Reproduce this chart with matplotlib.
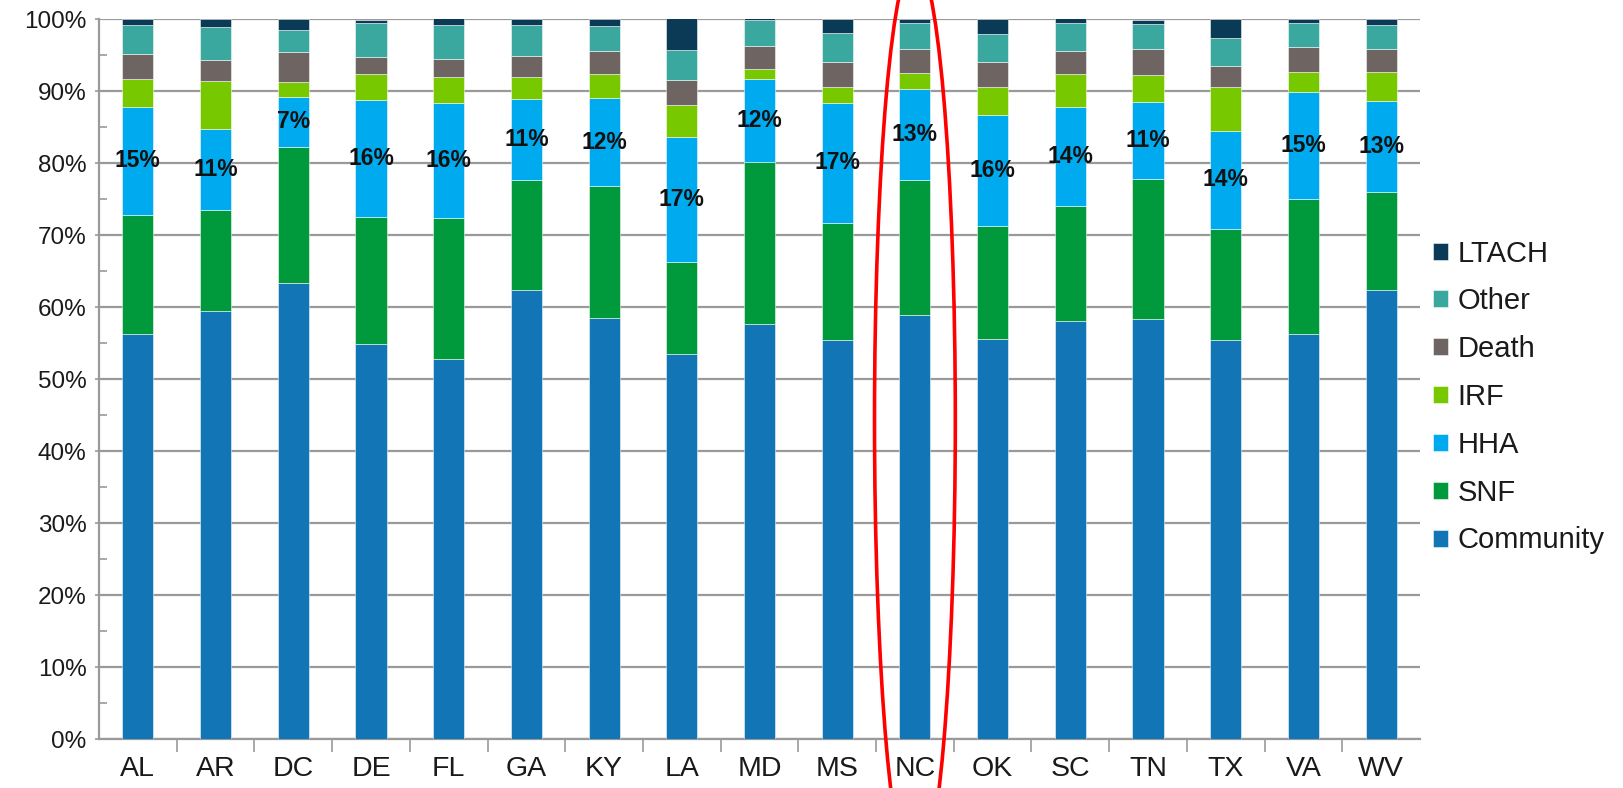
import matplotlib
matplotlib.use("Agg")
import matplotlib.pyplot as plt
from matplotlib.patches import Ellipse
from matplotlib.ticker import FixedLocator, FuncFormatter
import numpy as np

plt.rcParams['font.family'] = ['Liberation Sans', 'DejaVu Sans']

states = ['AL', 'AR', 'DC', 'DE', 'FL', 'GA', 'KY', 'LA', 'MD', 'MS',
          'NC', 'OK', 'SC', 'TN', 'TX', 'VA', 'WV']
community = [56.2, 59.4, 63.3, 54.8, 52.8, 62.3, 58.5, 53.5, 57.7, 55.4,
             58.9, 55.5, 58.1, 58.3, 55.4, 56.3, 62.3]
snf = [16.6, 14.1, 18.9, 17.7, 19.5, 15.4, 18.3, 12.7, 22.4, 16.3,
       18.7, 15.7, 15.9, 19.5, 15.5, 18.7, 13.7]
hha = [15.0, 11.2, 7.0, 16.2, 16.0, 11.2, 12.2, 17.4, 11.6, 16.7,
       12.7, 15.5, 13.8, 10.7, 13.5, 14.8, 12.6]
irf = [3.8, 6.7, 2.1, 3.7, 3.6, 3.0, 3.4, 4.5, 1.3, 2.2,
       2.2, 3.9, 4.5, 3.7, 6.2, 2.9, 4.0]
death = [3.5, 2.9, 4.1, 2.3, 2.5, 3.0, 3.2, 3.4, 3.3, 3.4,
         3.3, 3.4, 3.2, 3.6, 2.9, 3.4, 3.2]
other = [4.0, 4.6, 3.1, 4.7, 4.7, 4.3, 3.4, 4.2, 3.6, 4.1,
         3.6, 3.9, 3.9, 3.5, 3.9, 3.4, 3.3]
ltach = [0.9, 1.1, 1.5, 0.5, 1.0, 0.8, 1.0, 4.4, 0.2, 1.9,
         0.6, 2.1, 0.7, 0.6, 2.6, 0.5, 0.9]
hha_labels = ['15%', '11%', '7%', '16%', '16%', '11%', '12%', '17%', '12%', '17%',
              '13%', '16%', '14%', '11%', '14%', '15%', '13%']
highlight = 'NC'

series = [('Community', community, '#1275B6'),
          ('SNF', snf, '#009A3D'),
          ('HHA', hha, '#00AAEF'),
          ('IRF', irf, '#78C800'),
          ('Death', death, '#6E6462'),
          ('Other', other, '#3AA89E'),
          ('LTACH', ltach, '#0B3A56')]

W, H = 1624, 788
fig = plt.figure(figsize=(W / 100, H / 100), dpi=100)
ax = fig.add_axes([99 / W, (H - 739) / H, (1420 - 99) / W, (739 - 19) / H])

x = np.arange(len(states))
bottom = np.zeros(len(states))
handles = []
hha_bottom = None
for name, vals, col in series:
    vals = np.array(vals)
    if name == 'HHA':
        hha_bottom = bottom.copy()
    b = ax.bar(x, vals, width=0.4, bottom=bottom, color=col, label=name,
               edgecolor=(1, 1, 1, 0.6), linewidth=0.6, zorder=3)
    handles.append(b)
    bottom = bottom + vals

for i, lab in enumerate(hha_labels):
    ax.text(x[i], hha_bottom[i] + hha[i] / 2, lab, ha='center', va='center',
            fontsize=16.5, fontweight='bold', color='#111111', zorder=5)

ax.set_xlim(-0.5, len(states) - 0.5)
ax.set_ylim(0, 100)
ax.yaxis.set_major_locator(FixedLocator(np.arange(0, 101, 10)))
ax.yaxis.set_minor_locator(FixedLocator(np.arange(5, 100, 10)))
ax.yaxis.set_major_formatter(FuncFormatter(lambda v, p: f'{int(v)}%'))
ax.grid(axis='y', which='major', color='#9a9a9a', linewidth=1.6, zorder=0)
ax.tick_params(axis='y', which='major', length=3, width=1.2, color='#9a9a9a',
               labelsize=17.5, pad=6, labelcolor='#1a1a1a')
ax.tick_params(axis='y', which='minor', direction='in', length=6, width=1.2,
               color='#9a9a9a')

ax.set_xticks(x)
ax.set_xticklabels(states)
ax.xaxis.set_minor_locator(FixedLocator(np.arange(0.5, len(states) - 0.5, 1.0)))
ax.tick_params(axis='x', which='major', length=0, labelsize=20.5, pad=12,
               labelcolor='#1a1a1a')
ax.tick_params(axis='x', which='minor', length=9, width=1.2, color='#9a9a9a')

for s in ['top', 'right']:
    ax.spines[s].set_visible(False)
for s in ['left', 'bottom']:
    ax.spines[s].set_color('#9a9a9a')
    ax.spines[s].set_linewidth(1.6)

leg = fig.legend(handles=handles[::-1], labels=[s[0] for s in series][::-1],
                 loc='center left', bbox_to_anchor=(1433 / W, (H - 397) / H),
                 frameon=False, fontsize=21, handlelength=0.52, handleheight=0.52,
                 handletextpad=0.32, labelspacing=0.68, borderpad=0, borderaxespad=0)
for t in leg.get_texts():
    t.set_color('#1a1a1a')

# red ellipse highlighting one state
hi = states.index(highlight)
ell = Ellipse((hi, 44.3), width=1.04, height=127.8, fill=False, edgecolor='red',
              linewidth=2.6, clip_on=False, zorder=6)
ax.add_patch(ell)

fig.savefig('out.png', dpi=100)
